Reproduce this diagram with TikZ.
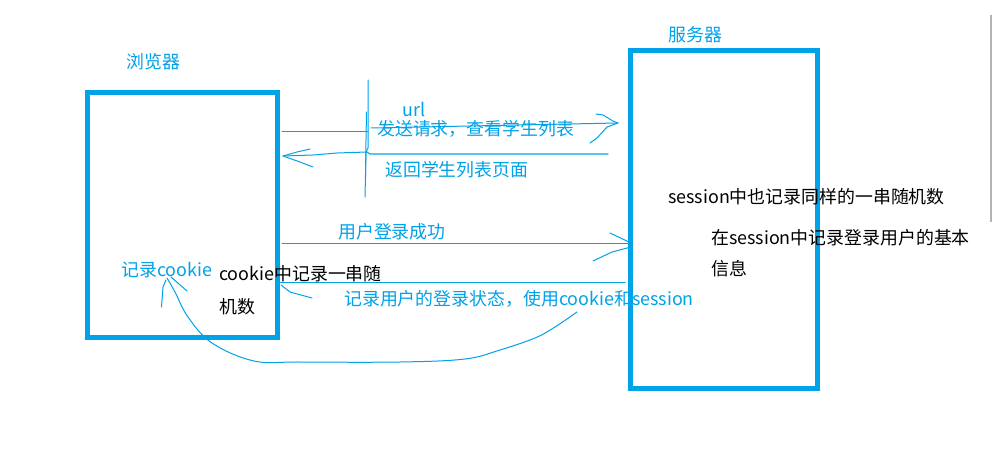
\documentclass[tikz,border=0pt]{standalone}
\usepackage{fontspec}
\setmainfont{Noto Sans CJK SC}
\definecolor{skyblue}{HTML}{00A2E8}
\definecolor{scrollgray}{HTML}{B4B4B4}
\begin{document}
\begin{tikzpicture}[x=1pt,y=-1pt,
  box/.style={draw=skyblue, line width=5pt, inner sep=0pt},
  pen/.style={draw=skyblue, line width=1pt, line cap=round, line join=round},
  bluetxt/.style={text=skyblue, font=\fontsize{17.9}{21}\selectfont, inner sep=0pt, anchor=west},
  blacktxt/.style={text=black, font=\fontsize{17.9}{21}\selectfont, inner sep=0pt, anchor=west}]
\fill[white] (0,0) rectangle (993,476);
\useasboundingbox (0,0) rectangle (993,476);

% the two parties
\node[box, minimum width=190pt, minimum height=245pt] (browser) at (182.5,215) {};
\node[box, minimum width=187pt, minimum height=338pt] (server) at (724,219.5) {};
\node[bluetxt] (browsertitle) at (126,62) {浏览器};
\node[bluetxt] (servertitle) at (668,35) {服务器};

% named ends of the hand-drawn connectors
\coordinate (reqA) at (282,132);
\coordinate (reqB) at (368,132);
\coordinate (reqC) at (371,128);
\coordinate (reqD) at (618,123);
\coordinate (retA) at (608,154);
\coordinate (retB) at (367,152);
\coordinate (retC) at (283,156);
\coordinate (logA) at (282,243);
\coordinate (logB) at (631,243);
\coordinate (staA) at (625,282);
\coordinate (staB) at (280,282);
\coordinate (curA) at (577,312);
\coordinate (curB) at (167,278);

% request: browser -> server
\draw[pen] (reqA) -- (reqB);
\draw[pen] (reqC) -- (reqD);
\draw[pen] (596,114) -- (603,115) -- (613,121) -- (reqD) -- (607,127) -- (597,138) -- (590,143);

% response: server -> browser
\draw[pen] (retA) -- (370,154) -- (retB);
\draw[pen] (retB) -- (337,153) -- (313,155) -- (retC);
\draw[pen] (310,149) -- (297,152) -- (retC) -- (300,162) -- (313,167);

% separator scribble
\draw[pen] (368,80) -- (368,148) -- (366,152) -- (365,197);
\draw[pen] (366.5,112) -- (366,140) -- (365.5,178);

% login
\draw[pen] (logA) -- (logB);
\draw[pen] (610,233) -- (logB);
\draw[pen] (631,247) -- (612,252) -- (593,261);

% login state returned
\draw[pen] (staA) -- (staB);
\draw[pen] (281,285) -- (290,292) -- (312,298);

% cookie handed back to the browser
\draw[pen] plot[smooth, tension=0.6] coordinates {(curA) (555,327) (535,338) (500,350) (465,359) (400,362) (300,362) (254,361) (212,343) (188,317) (175,292) (curB)};
\draw[pen] (161.5,307) -- (163,287) -- (166,280);
\draw[pen] (171,277) -- (187,291);

% labels
\node[bluetxt] (url) at (402,109) {url};
\node[bluetxt] (reqtxt) at (377,129) {发送请求，查看学生列表};
\node[bluetxt] (rettxt) at (385,170) {返回学生列表页面};
\node[bluetxt] (logtxt) at (338,232) {用户登录成功};
\node[bluetxt] (cookietxt) at (121,270) {记录cookie};
\node[bluetxt] (statetxt) at (344,299) {记录用户的登录状态，使用cookie和session};
\node[blacktxt] (cookienote1) at (219,274) {cookie中记录一串随};
\node[blacktxt] (cookienote2) at (219,307) {机数};
\node[blacktxt] (sessnote) at (668,197) {session中也记录同样的一串随机数};
\node[blacktxt] (infonote1) at (711,238) {在session中记录登录用户的基本};
\node[blacktxt] (infonote2) at (711,269) {信息};

% window scrollbar edge
\draw[scrollgray, line width=1.5pt] (991,15) -- (991,222);
\end{tikzpicture}
\end{document}
